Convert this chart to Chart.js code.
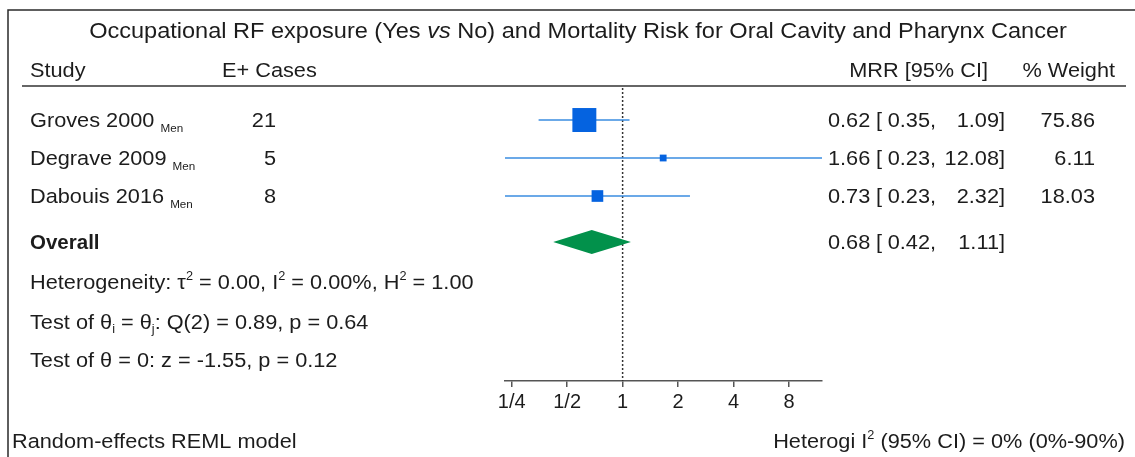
<!DOCTYPE html>
<html>
<head>
<meta charset="utf-8">
<script src="https://cdn.jsdelivr.net/npm/chart.js@4"></script>
<style>
  html, body { margin: 0; padding: 0; background: #fff; }
</style>
</head>
<body>
<canvas id="forest" width="1135" height="457"></canvas>
<script>
// study level data
var studies = ['Groves 2000', 'Degrave 2009', 'Dabouis 2016'];
var subgroups = ['Men', 'Men', 'Men'];
var cases = [21, 5, 8];
var mrr = [0.62, 1.66, 0.73];
var ciLow = [0.35, 0.23, 0.23];
var ciHigh = [1.09, 12.08, 2.32];
var weights = [75.86, 6.11, 18.03];
// pooled estimate: [MRR, low, high]
var overall = [0.68, 0.42, 1.11];
var xTicks = [0.25, 0.5, 1, 2, 4, 8];
var xTickLabels = ['1/4', '1/2', '1', '2', '4', '8'];

// layout (row positions on the hidden y scale)
var studyRows = [1, 2, 3];
var overallRow = 4.21;
var statRows = [5.26, 6.32, 7.32];

var FONT = '"Liberation Sans", Arial, Helvetica, sans-serif';
var TXT = '#1c1c1c';
var SX = 1.06; // the original type is a touch wider than Liberation Sans

function fontFor(kind, size) {
    if (kind === 'sup' || kind === 'sub') return Math.round(size * 0.6) + 'px ' + FONT;
    if (kind === 'tiny') return Math.round(size * 0.56) + 'px ' + FONT;
    if (kind === 'i') return 'italic ' + size + 'px ' + FONT;
    if (kind === 'b') return 'bold ' + size + 'px ' + FONT;
    return size + 'px ' + FONT;
}

// draws a line of text made of pieces (normal, italic, sup, sub ...)
function rich(ctx, parts, x, y, size, align, sx) {
    sx = sx || SX;
    var total = 0;
    parts.forEach(function (p) {
        ctx.font = fontFor(p[1], size);
        total += ctx.measureText(p[0]).width * sx;
    });
    var cx = align === 'right' ? x - total : (align === 'center' ? x - total / 2 : x);
    ctx.textAlign = 'left';
    parts.forEach(function (p) {
        ctx.font = fontFor(p[1], size);
        var dy = 0;
        if (p[1] === 'sup') dy = -size * 0.42;
        if (p[1] === 'sub') dy = size * 0.2;
        if (p[1] === 'tiny') dy = size * 0.22;
        ctx.save();
        ctx.translate(cx, y + dy);
        ctx.scale(sx, 1);
        ctx.fillText(p[0], 0, 0);
        ctx.restore();
        cx += ctx.measureText(p[0]).width * sx;
    });
}

function fmt(v) { return v.toFixed(2); }

var tablePlugin = {
    id: 'forestTable',
    beforeDatasetsDraw: function (chart) {
        var ctx = chart.ctx, xs = chart.scales.x, area = chart.chartArea;
        ctx.save();
        // null line at MRR = 1
        var x1 = xs.getPixelForValue(1);
        ctx.strokeStyle = '#333';
        ctx.lineWidth = 1.5;
        ctx.setLineDash([2, 2]);
        ctx.beginPath();
        ctx.moveTo(x1, area.top + 2);
        ctx.lineTo(x1, area.bottom);
        ctx.stroke();
        ctx.restore();
    },
    afterDatasetsDraw: function (chart) {
        var ctx = chart.ctx, xs = chart.scales.x, ys = chart.scales.y;
        ctx.save();
        // pooled diamond
        var yc = ys.getPixelForValue(overallRow);
        ctx.fillStyle = '#02914b';
        ctx.beginPath();
        ctx.moveTo(xs.getPixelForValue(overall[1]), yc);
        ctx.lineTo(xs.getPixelForValue(overall[0]), yc - 12);
        ctx.lineTo(xs.getPixelForValue(overall[2]), yc);
        ctx.lineTo(xs.getPixelForValue(overall[0]), yc + 12);
        ctx.closePath();
        ctx.fill();
        ctx.restore();
    },
    afterDraw: function (chart) {
        var ctx = chart.ctx, ys = chart.scales.y;
        ctx.save();
        ctx.textBaseline = 'alphabetic';
        ctx.fillStyle = TXT;

        // frame
        ctx.strokeStyle = '#2a2a2a';
        ctx.lineWidth = 1.5;
        ctx.beginPath();
        ctx.moveTo(8, 457);
        ctx.lineTo(8, 10);
        ctx.lineTo(1135, 10);
        ctx.stroke();

        // title
        rich(ctx, [['Occupational RF exposure (Yes ', 'n'], ['vs', 'i'],
            [' No) and Mortality Risk for Oral Cavity and Pharynx Cancer', 'n']], 578, 38, 22, 'center', 1.07);

        // header
        var hs = 20.5;
        rich(ctx, [['Study', 'n']], 30, 77, hs);
        rich(ctx, [['E+ Cases', 'n']], 222, 77, hs);
        rich(ctx, [['MRR [95% CI]', 'n']], 988, 77, hs, 'right');
        rich(ctx, [['% Weight', 'n']], 1115, 77, hs, 'right');
        ctx.strokeStyle = '#333';
        ctx.lineWidth = 1.5;
        ctx.beginPath();
        ctx.moveTo(22, 86);
        ctx.lineTo(1126, 86);
        ctx.stroke();

        // study rows
        studies.forEach(function (s, i) {
            var b = ys.getPixelForValue(studyRows[i]) + 7;
            rich(ctx, [[s + ' ', 'n'], [subgroups[i], 'tiny']], 30, b, hs);
            rich(ctx, [[String(cases[i]), 'n']], 276, b, hs, 'right');
            rich(ctx, [[fmt(mrr[i]), 'n']], 828, b, hs);
            rich(ctx, [['[', 'n']], 876, b, hs);
            rich(ctx, [[fmt(ciLow[i]) + ',', 'n']], 936, b, hs, 'right');
            rich(ctx, [[fmt(ciHigh[i]) + ']', 'n']], 1005, b, hs, 'right');
            rich(ctx, [[fmt(weights[i]), 'n']], 1095, b, hs, 'right');
        });

        // overall row
        var ob = ys.getPixelForValue(overallRow) + 7;
        rich(ctx, [['Overall', 'b']], 30, ob, hs, 'left', 1.0);
        rich(ctx, [[fmt(overall[0]), 'n']], 828, ob, hs);
        rich(ctx, [['[', 'n']], 876, ob, hs);
        rich(ctx, [[fmt(overall[1]) + ',', 'n']], 936, ob, hs, 'right');
        rich(ctx, [[fmt(overall[2]) + ']', 'n']], 1005, ob, hs, 'right');

        // heterogeneity and tests
        var b1 = ys.getPixelForValue(statRows[0]) + 7;
        rich(ctx, [['Heterogeneity: \u03C4', 'n'], ['2', 'sup'], [' = 0.00, I', 'n'], ['2', 'sup'],
            [' = 0.00%, H', 'n'], ['2', 'sup'], [' = 1.00', 'n']], 30, b1, hs);
        var b2 = ys.getPixelForValue(statRows[1]) + 7;
        rich(ctx, [['Test of \u03B8', 'n'], ['i', 'sub'], [' = \u03B8', 'n'], ['j', 'sub'],
            [': Q(2) = 0.89, p = 0.64', 'n']], 30, b2, hs);
        var b3 = ys.getPixelForValue(statRows[2]) + 7;
        rich(ctx, [['Test of \u03B8 = 0: z = -1.55, p = 0.12', 'n']], 30, b3, hs);

        // footer
        rich(ctx, [['Random-effects REML model', 'n']], 12, 448, hs);
        rich(ctx, [['Heterogi I', 'n'], ['2', 'sup'], [' (95% CI) = 0% (0%-90%)', 'n']], 1125, 448, hs, 'right');
        ctx.restore();
    }
};

var sides = weights.map(function (w) { return 2.75 * Math.sqrt(w); });

var datasets = [{
    label: 'MRR',
    type: 'scatter',
    data: mrr.map(function (v, i) { return { x: v, y: studyRows[i] }; }),
    pointStyle: 'rect',
    pointRadius: sides.map(function (s) { return s / Math.SQRT2; }),
    backgroundColor: '#0563e0',
    borderWidth: 0
}];
studies.forEach(function (s, i) {
    datasets.push({
        label: s + ' CI',
        type: 'line',
        data: [{ x: ciLow[i], y: studyRows[i] }, { x: ciHigh[i], y: studyRows[i] }],
        borderColor: '#3a8ce0',
        borderWidth: 1.6,
        pointRadius: 0,
        fill: false
    });
});

var ctx = document.getElementById('forest').getContext('2d');
var forest = new Chart(ctx, {
    type: 'scatter',
    data: { datasets: datasets },
    options: {
        responsive: false,
        animation: false,
        events: [],
        layout: { padding: { left: 505, right: 313, top: 86, bottom: 40 } },
        plugins: { legend: { display: false }, tooltip: { enabled: false } },
        scales: {
            x: {
                type: 'logarithmic',
                min: 0.23,
                max: 12.08,
                afterBuildTicks: function (scale) {
                    scale.ticks = xTicks.map(function (v) { return { value: v }; });
                },
                ticks: {
                    autoSkip: false,
                    maxRotation: 0,
                    padding: 3,
                    color: TXT,
                    font: { family: FONT, size: 20 },
                    callback: function (v, i) { return xTickLabels[i]; }
                },
                grid: { drawOnChartArea: false, drawTicks: true, tickLength: 6, color: '#555', lineWidth: 1.5 },
                border: { display: true, color: '#555', width: 1.5 }
            },
            y: {
                type: 'linear',
                reverse: true,
                min: 0.105,
                max: 7.868,
                display: false
            }
        }
    },
    plugins: [tablePlugin]
});
</script>
</body>
</html>
